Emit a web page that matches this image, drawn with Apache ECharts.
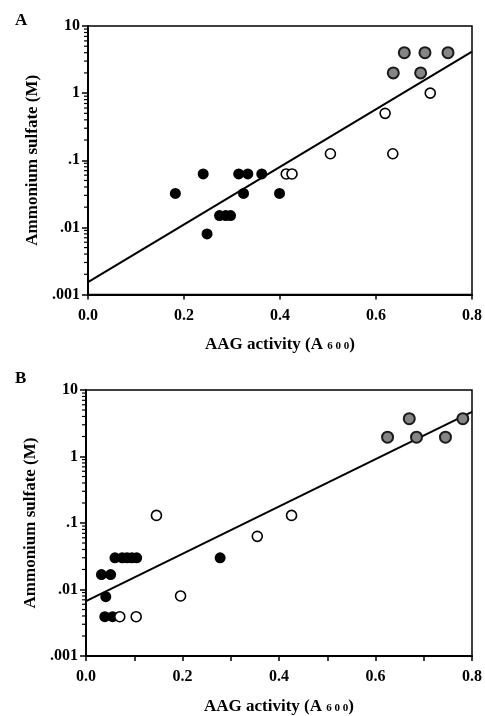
<!DOCTYPE html>
<html>
<head>
<meta charset="utf-8">
<script src="https://cdn.jsdelivr.net/npm/echarts@6/dist/echarts.min.js"></script>
<style>
html,body{margin:0;padding:0;background:#fff;}
#chart{width:485px;height:716px;}
</style>
</head>
<body>
<div id="chart"></div>
<script>
// ---------- Data ----------
// Panel A
const aBlack = [[0.182,0.032],[0.240,0.0625],[0.314,0.0625],[0.333,0.0625],[0.362,0.0625],
  [0.324,0.032],[0.399,0.032],[0.274,0.015],[0.287,0.015],[0.297,0.015],[0.248,0.008]];
const aOpen = [[0.413,0.0625],[0.425,0.0625],[0.505,0.125],[0.635,0.125],[0.619,0.5],[0.713,1.0]];
const aGrey = [[0.636,2],[0.693,2],[0.659,4],[0.702,4],[0.750,4]];
const aFit = [[0,0.00153],[0.8,4.14]];
// Panel B
const bBlack = [[0.060,0.030],[0.075,0.030],[0.085,0.030],[0.095,0.030],[0.105,0.030],[0.278,0.030],
  [0.032,0.0168],[0.051,0.0168],[0.041,0.0078],[0.039,0.0039],[0.055,0.0039]];
const bOpen = [[0.146,0.13],[0.426,0.13],[0.355,0.063],[0.196,0.008],[0.070,0.0039],[0.104,0.0039]];
const bGrey = [[0.625,1.95],[0.670,3.7],[0.685,1.95],[0.745,1.95],[0.781,3.7]];
const bFit = [[0,0.0067],[0.8,4.7]];
// Axes / ticks
const yTickValues = [0.001,0.01,0.1,1,10];
const yTickLabels = ['.001','.01','.1','1','10'];
const minorMultipliers = [2,3,4,5,6,7,8,9];
const minorDecades = [0.001,0.01,0.1,1];
const xTickLabelsText = ['0.0','0.2','0.4','0.6','0.8'];
const panelLabels = ['A','B'];
const xTitleMain = 'AAG activity (A ';
const xTitleSub = '6 0 0';
const yTitle = 'Ammonium sulfate (M)';

// ---------- Build ----------
const FONT = '"Liberation Serif", "Times New Roman", serif';
const minorTickData = [];
minorDecades.forEach(d => minorMultipliers.forEach(m => minorTickData.push([0, +(d*m).toPrecision(3)])));

function yLabel(v){
  for (let i=0;i<yTickValues.length;i++){
    if (Math.abs(Math.log10(v)-Math.log10(yTickValues[i]))<1e-6) return yTickLabels[i];
  }
  return '';
}
function xLabel(v){
  const idx = Math.round(v/0.2);
  if (Math.abs(v - idx*0.2) < 1e-6 && idx>=0 && idx<xTickLabelsText.length) return xTickLabelsText[idx];
  return '';
}

function makeX(gi, minor){
  return {
    type:'value', gridIndex:gi, min:0, max:0.8, interval:0.2,
    axisLine:{show:true, onZero:false, lineStyle:{color:'#000', width:2}},
    axisTick:{show:true, length:5, lineStyle:{color:'#000', width:1.5}},
    minorTick:{show:minor, splitNumber:2, length:5, lineStyle:{color:'#000', width:1.5}},
    splitLine:{show:false},
    axisLabel:{formatter:xLabel, color:'#000', fontFamily:FONT, fontWeight:'bold', fontSize:16, margin:13},
    name:'{a|'+xTitleMain+'}{b|'+xTitleSub+'}{a|)}',
    nameLocation:'middle', nameGap:42,
    nameTextStyle:{rich:{
      a:{fontFamily:FONT, fontWeight:'bold', fontSize:17, color:'#000'},
      b:{fontFamily:FONT, fontWeight:'bold', fontSize:11, color:'#000', padding:[3,0,0,0]}
    }}
  };
}
function makeY(gi){
  return {
    type:'log', logBase:10, gridIndex:gi, min:0.001, max:10,
    axisLine:{show:true, lineStyle:{color:'#000', width:2}},
    axisTick:{show:true, length:6, lineStyle:{color:'#000', width:1.5}},
    minorTick:{show:false},
    splitLine:{show:false},
    axisLabel:{formatter:yLabel, color:'#000', fontFamily:FONT, fontWeight:'bold', fontSize:16, margin:8},
    name:yTitle, nameLocation:'middle', nameGap:43,
    nameTextStyle:{fontFamily:FONT, fontWeight:'bold', fontSize:17, color:'#000'}
  };
}
function scatter(gi, data, kind){
  const st = kind==='black' ? {color:'#000', borderColor:'#000', borderWidth:0, opacity:1}
    : kind==='open' ? {color:'#fff', borderColor:'#000', borderWidth:1.6, opacity:1}
    : {color:'#858585', borderColor:'#1a1a1a', borderWidth:2, opacity:1};
  return {type:'scatter', xAxisIndex:gi, yAxisIndex:gi, data:data,
    symbol:'circle', symbolSize: kind==='open'?10:11, itemStyle:st, z:kind==='open'?4:3, silent:true};
}
function fitLine(gi, data){
  return {type:'line', xAxisIndex:gi, yAxisIndex:gi, data:data, showSymbol:false, symbol:'none',
    lineStyle:{color:'#000', width:2}, z:2, silent:true};
}
function minorTicks(gi){
  return {type:'custom', xAxisIndex:gi, yAxisIndex:gi, data:minorTickData, clip:false, silent:true,
    renderItem:function(params, api){
      const p = api.coord([api.value(0), api.value(1)]);
      return {type:'line', shape:{x1:p[0]-4, y1:p[1], x2:p[0], y2:p[1]},
        style:{stroke:'#000', lineWidth:1.2}};
    }};
}

const option = {
  animation:false,
  backgroundColor:'#fff',
  title:[
    {text:panelLabels[0], left:10, top:7, textStyle:{fontFamily:FONT, fontWeight:'bold', fontSize:17, color:'#000'}},
    {text:panelLabels[1], left:10, top:365, textStyle:{fontFamily:FONT, fontWeight:'bold', fontSize:17, color:'#000'}}
  ],
  grid:[
    {left:88, top:26, width:385, height:268.5, show:true, borderColor:'#000', borderWidth:1.5, backgroundColor:'#fff'},
    {left:86, top:390, width:389, height:269, show:true, borderColor:'#000', borderWidth:1.5, backgroundColor:'#fff'}
  ],
  xAxis:[makeX(0,false), makeX(1,true)],
  yAxis:[makeY(0), makeY(1)],
  series:[
    fitLine(0,aFit), scatter(0,aBlack,'black'), scatter(0,aOpen,'open'), scatter(0,aGrey,'grey'), minorTicks(0),
    fitLine(1,bFit), scatter(1,bBlack,'black'), scatter(1,bOpen,'open'), scatter(1,bGrey,'grey'), minorTicks(1)
  ]
};
const chart = echarts.init(document.getElementById('chart'), null, {renderer:'canvas'});
chart.setOption(option);
</script>
</body>
</html>
